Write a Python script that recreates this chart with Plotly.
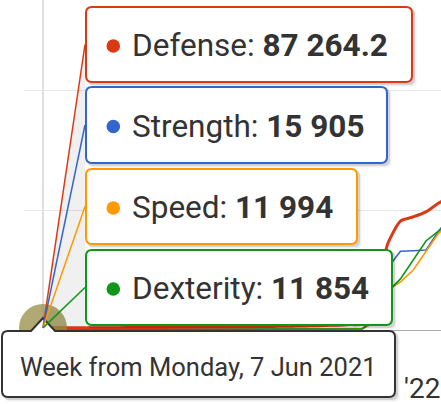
import pandas as pd
import plotly.graph_objects as go

# weekly points (Monday of each week)
weeks = [
    "2021-06-07", "2021-06-14", "2021-06-21", "2021-06-28", "2021-07-05", "2021-07-12",
    "2021-07-19", "2021-07-26", "2021-08-02", "2021-08-09", "2021-08-16", "2021-08-23",
    "2021-08-30", "2021-09-06", "2021-09-13", "2021-09-20", "2021-09-27", "2021-10-04",
    "2021-10-11", "2021-10-18", "2021-10-25", "2021-11-01", "2021-11-08", "2021-11-15",
    "2021-11-22", "2021-11-29", "2021-12-06", "2021-12-13", "2021-12-20", "2021-12-27",
    "2022-01-03", "2022-01-10", "2022-01-17",
]
defense = [
    87264.2, 88900, 90500, 92100, 94000, 96300, 98800, 101500, 104000, 107200, 110500,
    113900, 117800, 122000, 126500, 131000, 136200, 141800, 148000, 155500, 164000,
    174000, 186000, 201000, 224000, 262000, 1250000, 3580000, 4540000, 4710000,
    4920000, 5290000, 5580000,
]
strength = [
    15905, 16100, 16400, 16800, 17300, 17900, 18600, 19400, 20300, 21300, 22400,
    23600, 24900, 26300, 27800, 29400, 31100, 32900, 34800, 36800, 38900, 41100,
    43400, 46000, 50000, 60000, 330000, 2580000, 3280000, 3300000, 3330000,
    4130000, 4790000,
]
speed = [
    11994, 12200, 12500, 12800, 13200, 13700, 14200, 14800, 15500, 16200, 17000,
    17900, 18800, 19800, 20900, 22000, 23200, 24500, 25900, 27400, 29000, 30700,
    32500, 34500, 38000, 46000, 330000, 1670000, 2000000, 2500000, 3250000,
    4040000, 4500000,
]
dexterity = [
    11854, 12100, 12400, 12700, 13100, 13600, 14100, 14700, 15400, 16100, 16900,
    17800, 18700, 19700, 20800, 21900, 23100, 24400, 25800, 27300, 28900, 30600,
    32400, 34400, 38000, 47000, 420000, 1580000, 2130000, 2920000, 3710000,
    4130000, 4500000,
]

names = ["Defense", "Strength", "Speed", "Dexterity"]
values = {"Defense": defense, "Strength": strength, "Speed": speed, "Dexterity": dexterity}
colors = {"Defense": "#dc3912", "Strength": "#3366cc", "Speed": "#ff9900", "Dexterity": "#109618"}
widths = {"Defense": 3, "Strength": 1.6, "Speed": 1.6, "Dexterity": 1.6}

hover_idx = 0
header_text = "Week from Monday, 7 Jun 2021"
tick_vals = ["2022-01-01"]
tick_text = ["'22"]

x_range = ["2021-05-27 14:00", "2022-01-11 06:00"]
y_max = 13.75e6
y_step = 5e6

W, H = 441, 404
ML, MB = 24, 74
PW, PH = W - ML, H - MB


def px(x):
    return (x - ML) / PW


def py(y):
    return (PH - y) / PH


def P(x, y):
    return f"{px(x):.5f},{py(y):.5f}"


def rounded(x0, y0, x1, y1, r, notch=None):
    d = f"M {P(x0 + r, y0)}"
    if notch:
        nx0, nx1, ax, ay = notch
        d += f" L {P(nx0, y0)} L {P(ax, ay)} L {P(nx1, y0)}"
    d += (f" L {P(x1 - r, y0)} Q {P(x1, y0)} {P(x1, y0 + r)}"
          f" L {P(x1, y1 - r)} Q {P(x1, y1)} {P(x1 - r, y1)}"
          f" L {P(x0 + r, y1)} Q {P(x0, y1)} {P(x0, y1 - r)}"
          f" L {P(x0, y0 + r)} Q {P(x0, y0)} {P(x0 + r, y0)} Z")
    return d


def circle(cx, cy, r, color):
    return dict(type="circle", xref="paper", yref="paper", layer="above",
                x0=px(cx - r), x1=px(cx + r), y0=py(cy + r), y1=py(cy - r),
                fillcolor=color, line=dict(width=0))


fig = go.Figure()
for name in ["Strength", "Speed", "Dexterity", "Defense"]:
    shape = "spline" if name == "Defense" else "linear"
    fig.add_trace(go.Scatter(x=weeks, y=values[name], mode="lines", name=name,
                             line=dict(color=colors[name], width=widths[name],
                                       shape=shape, smoothing=0.6),
                             hoverinfo="skip"))

# pixel position of the hovered point
t0, t1 = pd.Timestamp(x_range[0]), pd.Timestamp(x_range[1])
hx = pd.Timestamp(weeks[hover_idx])
ax = ML + (hx - t0) / (t1 - t0) * PW
ay = PH - defense[hover_idx] / y_max * PH

shapes = [
    dict(type="line", xref="x", yref="paper", x0=weeks[hover_idx], x1=weeks[hover_idx],
         y0=0, y1=1, layer="between", line=dict(color="#d4d4d4", width=1.5)),
    circle(ax, ay, 24, "rgba(150,140,70,0.75)"),
]

# split tooltip boxes: (top, bottom, right)
boxes = {
    "Defense": (6, 83, 413),
    "Strength": (86, 164, 388),
    "Speed": (168, 245, 358),
    "Dexterity": (249, 326, 393),
}
box_left = 85
shapes.append(dict(type="path", xref="paper", yref="paper", layer="above",
                   path=f"M {P(ax, ay)} L {P(box_left, 45)} L {P(box_left, 326)} Z",
                   fillcolor="rgba(0,0,0,0.06)", line=dict(width=0)))

header_box = (1, 330, 396, 398)
all_boxes = [(box_left, t, r, b) for (t, b, r) in boxes.values()]
for (x0, y0, x1, y1) in all_boxes + [header_box]:
    for off, alpha in ((3.5, 0.06), (2, 0.12)):
        shapes.append(dict(type="path", xref="paper", yref="paper", layer="above",
                           path=rounded(x0 + off, y0 + off, x1 + off, y1 + off, 6),
                           fillcolor=f"rgba(0,0,0,{alpha})", line=dict(width=0)))

shapes.append(dict(type="path", xref="paper", yref="paper", layer="above",
                   path=rounded(header_box[0] + 1, header_box[1] + 1, header_box[2] - 1,
                                header_box[3] - 1, 6, notch=(31, 55, ax, 318)),
                   fillcolor="white", line=dict(color="#333333", width=2)))

annotations = []
for name in names:
    top, bottom, right = boxes[name]
    cy = (top + bottom) / 2
    shapes.append(dict(type="path", xref="paper", yref="paper", layer="above",
                       path=rounded(box_left + 1, top + 1, right - 1, bottom - 1, 6),
                       fillcolor="white", line=dict(color=colors[name], width=2)))
    shapes.append(circle(113.3, cy + 1.5, 6.8, colors[name]))
    v = values[name][hover_idx]
    txt = f"{v:,}".replace(",", " ")
    annotations.append(dict(xref="paper", yref="paper", x=px(130), y=py(cy + 1),
                            xanchor="left", yanchor="middle", showarrow=False,
                            text=f"{name}: <b>{txt}</b>",
                            font=dict(family="Roboto", size=31.5, color="#333333")))

for name in names:
    top, bottom, right = boxes[name]
    shapes.append(dict(type="line", xref="paper", yref="paper", layer="above",
                       x0=px(ax), y0=py(ay), x1=px(box_left), y1=py((top + bottom) / 2),
                       line=dict(color=colors[name], width=1.5)))

annotations.append(dict(xref="paper", yref="paper", x=px(18), y=py(367),
                        xanchor="left", yanchor="middle", showarrow=False,
                        text=header_text,
                        font=dict(family="Roboto", size=25.5, color="#333333")))

fig.update_layout(
    width=W, height=H,
    margin=dict(l=ML, r=0, t=0, b=MB, autoexpand=False),
    plot_bgcolor="white", paper_bgcolor="white",
    showlegend=False,
    shapes=shapes,
    annotations=annotations,
)
fig.update_xaxes(type="date", range=x_range, showgrid=False, zeroline=False,
                 showline=True, linecolor="#a8a8a8", linewidth=1,
                 tickvals=tick_vals, ticktext=tick_text, ticks="",
                 ticklabelstandoff=33, ticklabeloverflow="allow",
                 tickfont=dict(family="Roboto", size=28, color="#333333"))
fig.update_yaxes(range=[0, y_max], dtick=y_step, tick0=0, showticklabels=False,
                 gridcolor="#e6e6e6", gridwidth=1, zeroline=False, ticks="")

fig.write_html("out.html", config={"displayModeBar": False},
               post_script="document.body.style.margin='0';document.body.style.overflow='hidden';")
